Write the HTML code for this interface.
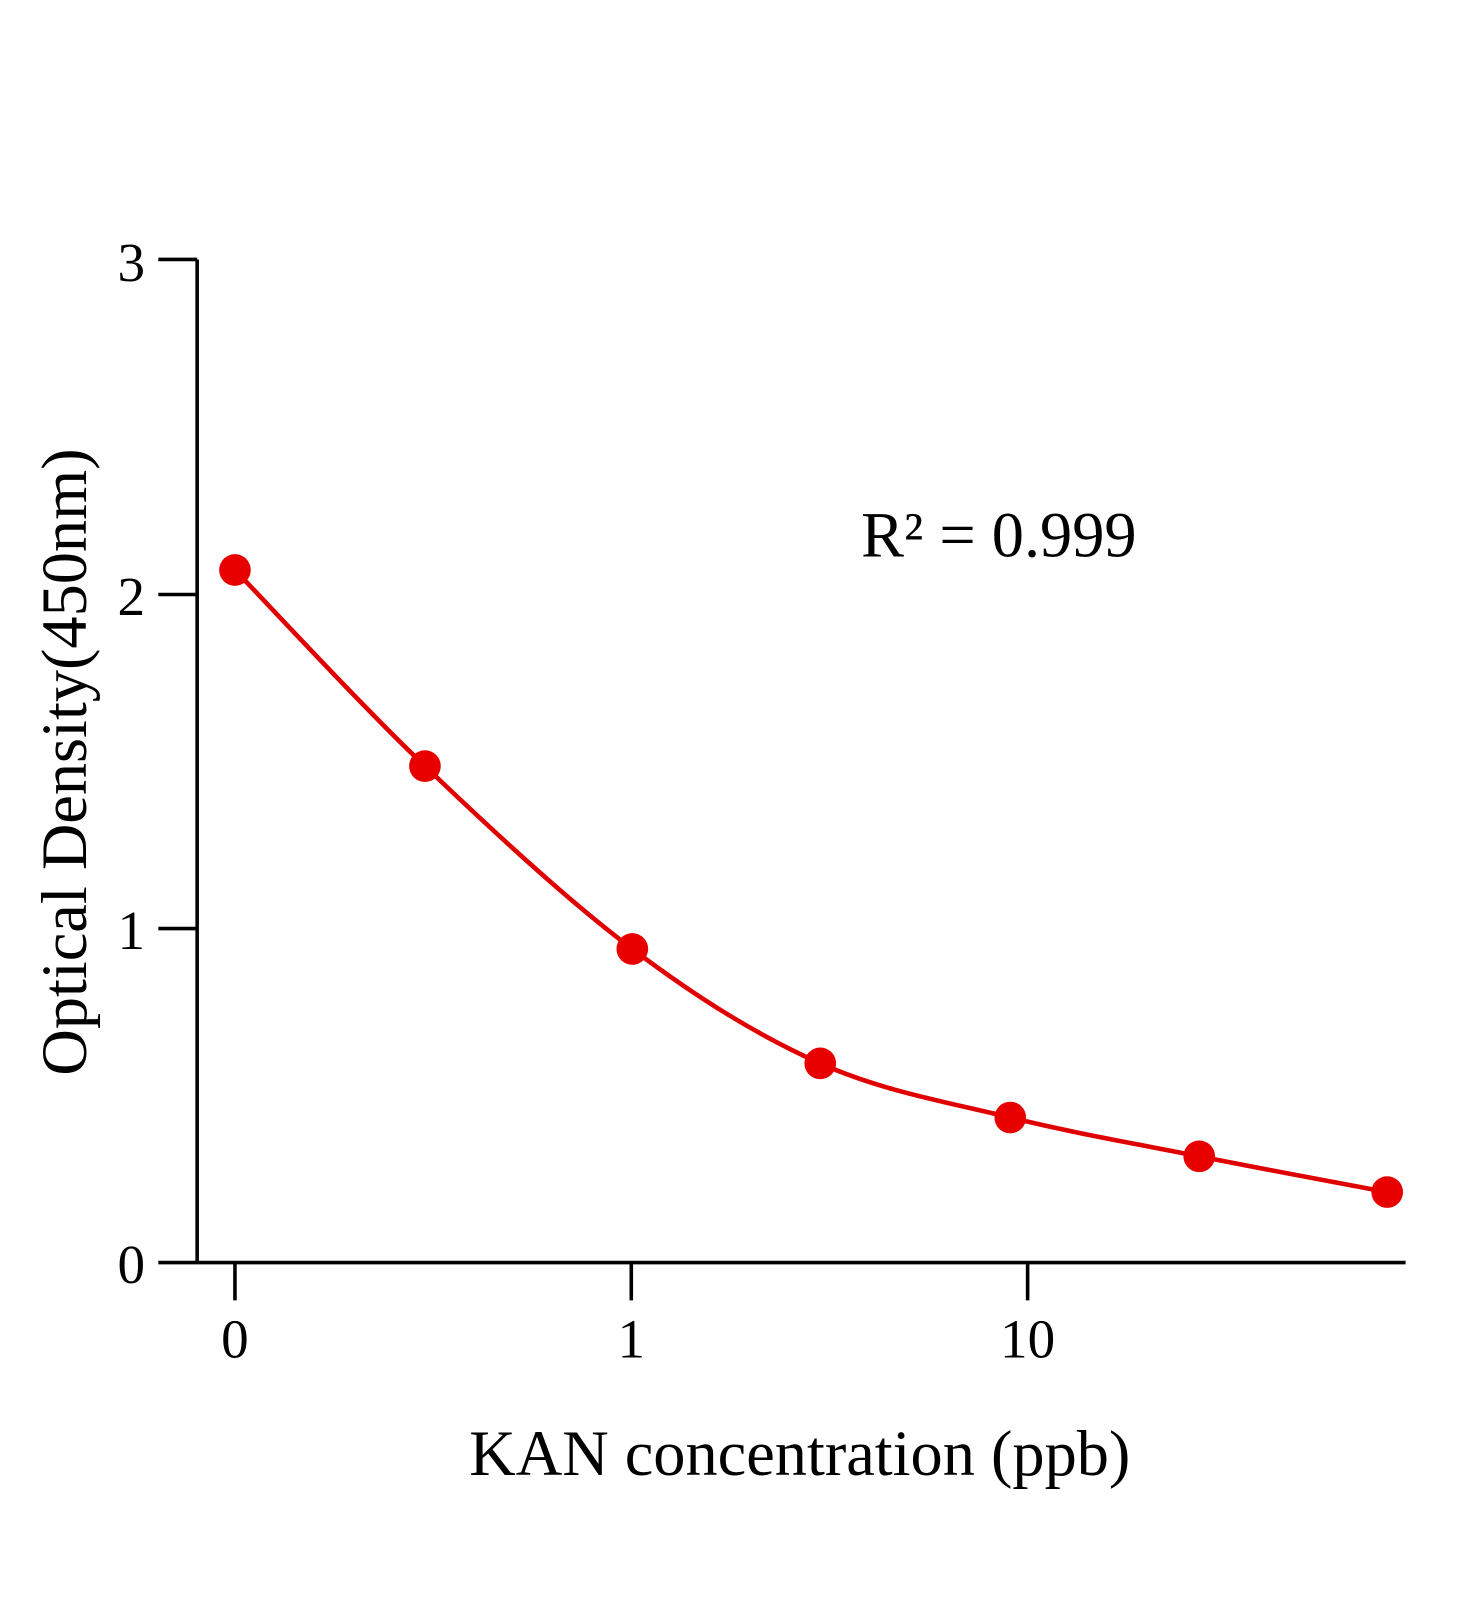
<!DOCTYPE html>
<html><head><style>body{margin:0;background:#fff}</style></head><body>
<svg width="1472" height="1600" xmlns="http://www.w3.org/2000/svg" font-family="Liberation Serif, serif">
<rect width="1472" height="1600" fill="#fff"/>
<g transform="scale(1.0215)">
<g stroke="#000" stroke-width="3.5" fill="none">
<line x1="193" y1="254" x2="193" y2="1237"/>
<line x1="155" y1="1236" x2="1376" y2="1236"/>
<line x1="155" y1="254" x2="193" y2="254"/>
<line x1="155" y1="582" x2="193" y2="582"/>
<line x1="155" y1="909" x2="193" y2="909"/>
<line x1="230" y1="1236" x2="230" y2="1273"/>
<line x1="618" y1="1236" x2="618" y2="1273"/>
<line x1="1006" y1="1236" x2="1006" y2="1273"/>
</g>
<g font-size="54" text-anchor="end" fill="#000">
<text x="142" y="275">3</text>
<text x="142" y="602">2</text>
<text x="142" y="929">1</text>
<text x="142" y="1256">0</text>
</g>
<g font-size="54" text-anchor="middle" fill="#000">
<text x="230" y="1329">0</text>
<text x="618" y="1329">1</text>
<text x="1006" y="1329">10</text>
</g>
<text x="783" y="1444" font-size="63" text-anchor="middle">KAN concentration (ppb)</text>
<text transform="translate(84,746) rotate(-90)" font-size="63" text-anchor="middle">Optical Density(450nm)</text>
<text x="843" y="545" font-size="63">R² = 0.999</text>
<path d="M230,558 C261,590 351.2,688.2 416,750 C480.8,811.8 554.5,880.5 619,929 C683.5,977.5 741.3,1013.5 803,1041 C864.7,1068.5 927.2,1078.8 989,1094 C1050.8,1109.2 1112.5,1119.8 1174,1132 C1235.5,1144.2 1327.3,1161.2 1358,1167" stroke="#e00000" stroke-width="4.5" fill="none"/>
<g fill="#e80000">
<circle cx="230" cy="558" r="15.5"/><circle cx="416" cy="750" r="15.5"/><circle cx="619" cy="929" r="15.5"/><circle cx="803" cy="1041" r="15.5"/><circle cx="989" cy="1094" r="15.5"/><circle cx="1174" cy="1132" r="15.5"/><circle cx="1358" cy="1167" r="15.5"/>
</g>
</g>
</svg>
</body></html>
